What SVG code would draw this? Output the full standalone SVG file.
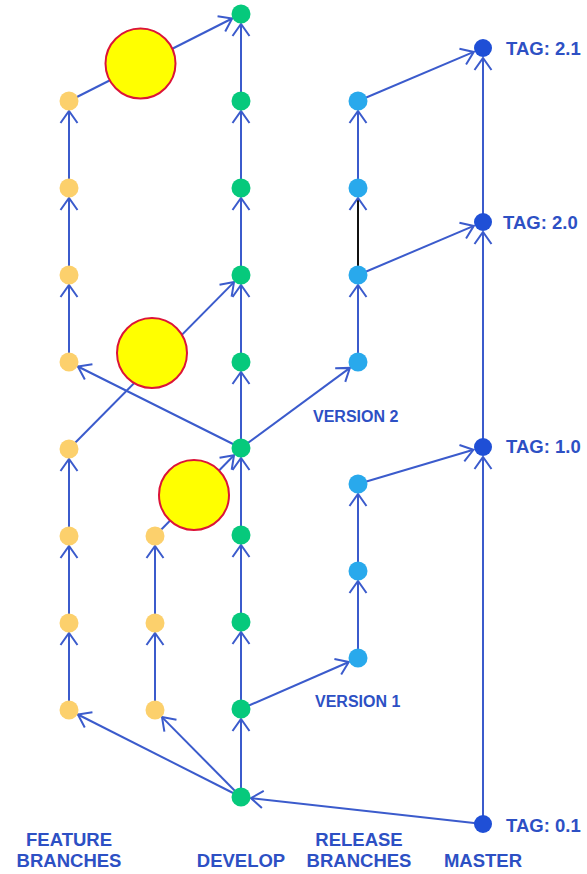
<svg xmlns="http://www.w3.org/2000/svg" width="587" height="874" viewBox="0 0 587 874">
<defs>
<style>
.e{stroke:#3b5bcc;stroke-width:2;fill:none;marker-end:url(#ah)}
.k{stroke:#111;stroke-width:2;fill:none;marker-end:url(#ah)}
.f{fill:#fcd06c}
.d{fill:#06c97c}
.r{fill:#29a9ec}
.m{fill:#1f4fd6}
.y{fill:#ffff00;stroke:#dc1438;stroke-width:2}
text{font-family:"Liberation Sans",Arial,sans-serif;font-weight:700;fill:#2d50c4}
.lb{font-size:18.5px}
.v{font-size:16px}
.c{text-anchor:middle}
</style>
<marker id="ah" markerUnits="userSpaceOnUse" viewBox="-14 -11 16 22" markerWidth="16" markerHeight="22" refX="0" refY="0" orient="auto">
<path d="M-12,-8.5 L0,0 L-12,8.5" fill="none" stroke="#3b5bcc" stroke-width="2"/>
</marker>
</defs>
<rect width="587" height="874" fill="#ffffff"/>
<g id="connectors">
<line class="e" x1="69" y1="101" x2="232.1" y2="18.5"/>
<line class="e" x1="69" y1="188" x2="69" y2="111"/>
<line class="e" x1="69" y1="275" x2="69" y2="198"/>
<line class="e" x1="69" y1="362" x2="69" y2="285"/>
<line class="e" x1="69" y1="536" x2="69" y2="459"/>
<line class="e" x1="69" y1="623" x2="69" y2="546"/>
<line class="e" x1="69" y1="710" x2="69" y2="633"/>
<line class="e" x1="69" y1="449" x2="234" y2="282.1"/>
<line class="e" x1="241" y1="448" x2="77.9" y2="366.5"/>
<line class="e" x1="241" y1="448" x2="349.9" y2="367.9"/>
<line class="e" x1="155" y1="536" x2="234" y2="455.2"/>
<line class="e" x1="155" y1="623" x2="155" y2="546"/>
<line class="e" x1="155" y1="710" x2="155" y2="633"/>
<line class="e" x1="241" y1="797" x2="77.9" y2="714.5"/>
<line class="e" x1="241" y1="797" x2="162" y2="717.1"/>
<line class="e" x1="241" y1="797" x2="241" y2="719"/>
<line class="e" x1="241" y1="709" x2="241" y2="632"/>
<line class="e" x1="241" y1="622" x2="241" y2="545"/>
<line class="e" x1="241" y1="535" x2="241" y2="458"/>
<line class="e" x1="241" y1="448" x2="241" y2="372"/>
<line class="e" x1="241" y1="362" x2="241" y2="285"/>
<line class="e" x1="241" y1="275" x2="241" y2="198"/>
<line class="e" x1="241" y1="188" x2="241" y2="111"/>
<line class="e" x1="241" y1="101" x2="241" y2="24"/>
<line class="e" x1="483" y1="824" x2="250.9" y2="798.1"/>
<line class="e" x1="241" y1="709" x2="348.8" y2="662"/>
<line class="e" x1="358" y1="658" x2="358" y2="581"/>
<line class="e" x1="358" y1="571" x2="358" y2="494"/>
<line class="e" x1="358" y1="484" x2="473.4" y2="449.8"/>
<line class="e" x1="483" y1="824" x2="483" y2="457"/>
<line class="e" x1="483" y1="447" x2="483" y2="232"/>
<line class="e" x1="483" y1="222" x2="483" y2="58"/>
<line class="e" x1="358" y1="362" x2="358" y2="285"/>
<line class="k" x1="358" y1="275" x2="358" y2="198"/>
<line class="e" x1="358" y1="188" x2="358" y2="111"/>
<line class="e" x1="358" y1="275" x2="473.8" y2="225.9"/>
<line class="e" x1="358" y1="101" x2="473.8" y2="51.9"/>
</g>
<g id="feature1">
<circle id="f1-1" class="f" cx="69" cy="101" r="9.5"/>
<circle id="f1-2" class="f" cx="69" cy="188" r="9.5"/>
<circle id="f1-3" class="f" cx="69" cy="275" r="9.5"/>
<circle id="f1-4" class="f" cx="69" cy="362" r="9.5"/>
<circle id="f1-5" class="f" cx="69" cy="449" r="9.5"/>
<circle id="f1-6" class="f" cx="69" cy="536" r="9.5"/>
<circle id="f1-7" class="f" cx="69" cy="623" r="9.5"/>
<circle id="f1-8" class="f" cx="69" cy="710" r="9.5"/>
</g>
<g id="feature2">
<circle id="f2-1" class="f" cx="155" cy="536" r="9.5"/>
<circle id="f2-2" class="f" cx="155" cy="623" r="9.5"/>
<circle id="f2-3" class="f" cx="155" cy="710" r="9.5"/>
</g>
<g id="develop">
<circle id="d-1" class="d" cx="241" cy="14" r="9.5"/>
<circle id="d-2" class="d" cx="241" cy="101" r="9.5"/>
<circle id="d-3" class="d" cx="241" cy="188" r="9.5"/>
<circle id="d-4" class="d" cx="241" cy="275" r="9.5"/>
<circle id="d-5" class="d" cx="241" cy="362" r="9.5"/>
<circle id="d-6" class="d" cx="241" cy="448" r="9.5"/>
<circle id="d-7" class="d" cx="241" cy="535" r="9.5"/>
<circle id="d-8" class="d" cx="241" cy="622" r="9.5"/>
<circle id="d-9" class="d" cx="241" cy="709" r="9.5"/>
<circle id="d-10" class="d" cx="241" cy="797" r="9.5"/>
</g>
<g id="release">
<circle id="r-1" class="r" cx="358" cy="101" r="9.5"/>
<circle id="r-2" class="r" cx="358" cy="188" r="9.5"/>
<circle id="r-3" class="r" cx="358" cy="275" r="9.5"/>
<circle id="r-4" class="r" cx="358" cy="362" r="9.5"/>
<circle id="r-5" class="r" cx="358" cy="484" r="9.5"/>
<circle id="r-6" class="r" cx="358" cy="571" r="9.5"/>
<circle id="r-7" class="r" cx="358" cy="658" r="9.5"/>
</g>
<g id="master">
<circle id="m-1" class="m" cx="483" cy="48" r="9"/>
<circle id="m-2" class="m" cx="483" cy="222" r="9"/>
<circle id="m-3" class="m" cx="483" cy="447" r="9"/>
<circle id="m-4" class="m" cx="483" cy="824" r="9"/>
</g>
<g id="merges">
<circle id="merge-1" class="y" cx="140.5" cy="63.5" r="35"/>
<circle id="merge-2" class="y" cx="152" cy="353" r="35"/>
<circle id="merge-3" class="y" cx="194" cy="495" r="35"/>
</g>
<g id="labels">
<text class="lb" x="506" y="55">TAG: 2.1</text>
<text class="lb" x="503" y="228.5">TAG: 2.0</text>
<text class="lb" x="506" y="453">TAG: 1.0</text>
<text class="lb" x="506" y="831.5">TAG: 0.1</text>
<text class="v" x="313" y="421.5">VERSION 2</text>
<text class="v" x="315" y="707">VERSION 1</text>
<text class="lb c" x="69" y="845.5">FEATURE</text>
<text class="lb c" x="69" y="866.5">BRANCHES</text>
<text class="lb c" x="241" y="866.5">DEVELOP</text>
<text class="lb c" x="359" y="845.5">RELEASE</text>
<text class="lb c" x="359" y="866.5">BRANCHES</text>
<text class="lb c" x="483" y="866.5">MASTER</text>
</g>
</svg>
